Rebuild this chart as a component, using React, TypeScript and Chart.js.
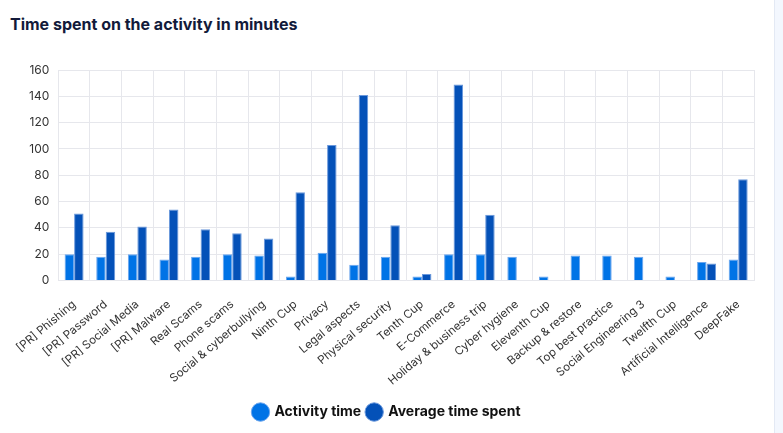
import React, { useEffect, useRef } from 'react';
import { Chart, ChartConfiguration, registerables } from 'chart.js';

Chart.register(...registerables);

const categories = [
  '[PR] Phishing',
  '[PR] Password',
  '[PR] Social Media',
  '[PR] Malware',
  'Real Scams',
  'Phone scams',
  'Social & cyberbullying',
  'Ninth Cup',
  'Privacy',
  'Legal aspects',
  'Physical security',
  'Tenth Cup',
  'E-Commerce',
  'Holiday & business trip',
  'Cyber hygiene',
  'Eleventh Cup',
  'Backup & restore',
  'Top best practice',
  'Social Engineering 3',
  'Twelfth Cup',
  'Artificial Intelligence',
  'DeepFake',
];

const activityTime = [20, 18, 20, 16, 18, 20, 19, 3, 21, 12, 18, 3, 20, 20, 18, 3, 19, 19, 18, 3, 14, 16];
const averageTime = [51, 37, 41, 54, 39, 36, 32, 67, 103, 141, 42, 5, 149, 50, null, null, null, null, null, null, 13, 77];

const yMax = 160;
const yStep = 20;

const FONT = 'Inter, "Open Sans", sans-serif';

const App: React.FC = () => {
  const canvasRef = useRef<HTMLCanvasElement>(null);
  const chartRef = useRef<Chart | null>(null);

  useEffect(() => {
    if (!canvasRef.current) return;
    if (chartRef.current) chartRef.current.destroy();

    const config: ChartConfiguration = {
      type: 'bar',
      data: {
        labels: categories,
        datasets: [
          {
            label: 'Activity time',
            data: activityTime,
            backgroundColor: '#0073e6',
            borderColor: '#6aa5ee',
            borderWidth: 1,
          },
          {
            label: 'Average time spent',
            data: averageTime,
            backgroundColor: '#0451b8',
            borderColor: '#6a98dc',
            borderWidth: 1,
          },
        ],
      },
      options: {
        responsive: true,
        maintainAspectRatio: false,
        animation: false,
        datasets: {
          bar: { categoryPercentage: 0.6, barPercentage: 1 },
        },
        layout: { padding: { left: 20, right: 20, top: 25, bottom: 4 } },
        plugins: {
          title: { display: false },
          tooltip: { enabled: false },
          legend: {
            position: 'bottom',
            labels: {
              usePointStyle: true,
              pointStyle: 'circle',
              boxHeight: 13,
              padding: 6,
              color: '#111111',
              font: { family: FONT, size: 14, weight: 'bold' },
            },
          },
        },
        scales: {
          x: {
            // rotated labels reserve a bit more room than they use
            afterFit: (scale) => {
              scale.height -= 6;
            },
            grid: { color: '#e6e7ec', drawTicks: false },
            border: { color: '#e6e7ec' },
            ticks: {
              minRotation: 40,
              maxRotation: 40,
              autoSkip: false,
              padding: 17,
              color: '#333333',
              font: { family: FONT, size: 11.5 },
            },
          },
          y: {
            min: 0,
            max: yMax,
            grid: { color: '#e6e7ec', drawTicks: false },
            border: { color: '#e6e7ec' },
            ticks: {
              stepSize: yStep,
              padding: 9,
              color: '#333333',
              font: { family: FONT, size: 12 },
            },
          },
        },
      },
    };

    chartRef.current = new Chart(canvasRef.current, config);

    return () => {
      if (chartRef.current) {
        chartRef.current.destroy();
        chartRef.current = null;
      }
    };
  }, []);

  return (
    <div style={{ position: 'fixed', left: 0, top: 0, width: 783, height: 433, background: '#ffffff', overflow: 'hidden' }}>
      <div
        style={{
          position: 'absolute',
          left: 10,
          top: 14,
          fontFamily: FONT,
          fontSize: 16,
          fontWeight: 700,
          color: '#121a3a',
        }}
      >
        Time spent on the activity in minutes
      </div>
      <div style={{ position: 'absolute', left: 0, top: 45, width: 774, height: 388 }}>
        <canvas ref={canvasRef} aria-label="Time spent chart" />
      </div>
      <div
        style={{
          position: 'absolute',
          left: 774,
          top: 0,
          width: 9,
          height: 433,
          background: '#f3f7fe',
          borderLeft: '1px solid #e3e9f4',
        }}
      />
    </div>
  );
};

export default App;
